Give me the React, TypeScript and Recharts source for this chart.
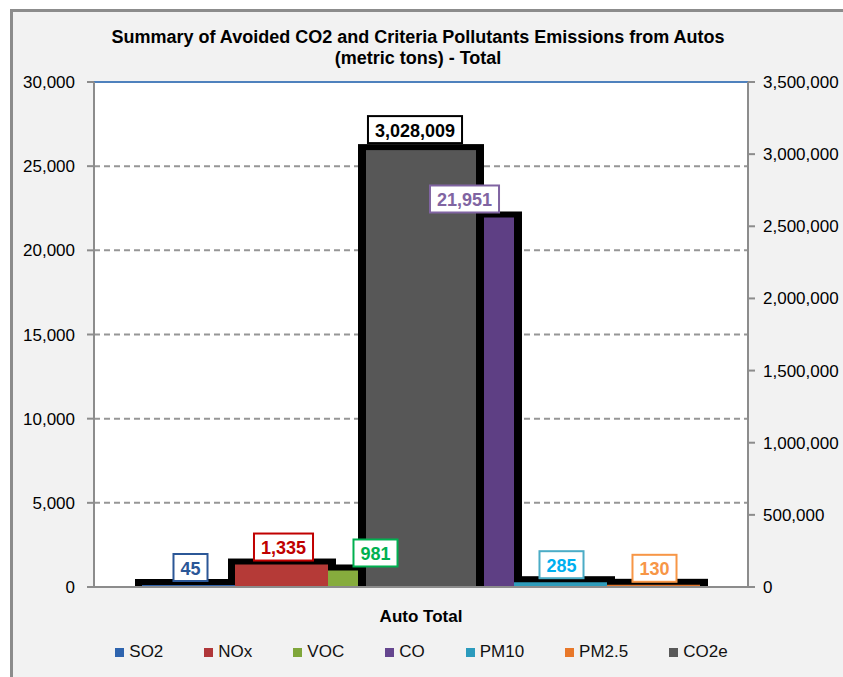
import React from 'react';
import { BarChart, Bar, XAxis, YAxis, CartesianGrid, Legend, ReferenceLine, LabelList } from 'recharts';

// ---- data ----
const categories = ['Auto Total'];
const so2Values = [45];
const noxValues = [1335];
const vocValues = [981];
const coValues = [21951];
const pm10Values = [285];
const pm25Values = [130];
const co2eValues = [3028009];
const leftTicks = [0, 5000, 10000, 15000, 20000, 25000, 30000];
const rightTicks = [0, 500000, 1000000, 1500000, 2000000, 2500000, 3000000, 3500000];
const titleLines = ['Summary of Avoided CO2 and Criteria Pollutants Emissions from Autos', '(metric tons) - Total'];

const data = categories.map((name, i) => ({
  name,
  SO2: so2Values[i],
  NOx: noxValues[i],
  VOC: vocValues[i],
  CO: coValues[i],
  PM10: pm10Values[i],
  PM25: pm25Values[i],
  CO2e: co2eValues[i],
}));

const FONT = '"Liberation Sans", Arial, sans-serif';

const primarySeries = [
  { key: 'SO2', name: 'SO2', fill: '#2F5FA5', legend: '#2E64AE', text: '#2B5797', border: '#2B5797', gap: 4, dx: 2 },
  { key: 'NOx', name: 'NOx', fill: '#B53A37', legend: '#B0373A', text: '#C00000', border: '#C00000', gap: 4, dx: 2 },
  { key: 'VOC', name: 'VOC', fill: '#86AC3D', legend: '#7FA63A', text: '#00B050', border: '#00B050', gap: 4, dx: 1 },
  { key: 'CO', name: 'CO', fill: '#5E3F84', legend: '#65468F', text: '#8064A2', border: '#8064A2', gap: 5, dx: -3 },
  { key: 'PM10', name: 'PM10', fill: '#2E9CBB', legend: '#2C9BBD', text: '#00B0F0', border: '#4BACC6', gap: 4, dx: 1 },
  { key: 'PM25', name: 'PM2.5', fill: '#E0732A', legend: '#E8782A', text: '#F79646', border: '#F79646', gap: 3, dx: 1 },
];
const secondarySeries = { key: 'CO2e', name: 'CO2e', fill: '#575757', legend: '#595959', text: '#000000', border: '#000000', gap: 7, dx: -6 };

const fmt = (v: number) => Number(v).toLocaleString('en-US');

const textWidth = (s: string, size: number) => {
  let w = 0;
  for (const ch of s) w += ch === ',' ? 0.278 : 0.556;
  return w * size;
};

const ShadowShape = (props: any) => {
  const { x, y, width, height } = props;
  if (width == null) return null;
  return <rect x={x - 7} y={y - 6} width={width + 15} height={height + 6} fill="#000" />;
};

const SecondaryShape = (props: any) => {
  const { x, y, width, height, fill } = props;
  return (
    <g>
      <rect x={x - 8} y={y - 6} width={width + 16} height={height + 6} fill="#000" />
      <rect x={x} y={y} width={width} height={height} fill={fill} />
    </g>
  );
};

const makeLabel = (s: any) => (props: any) => {
  const vb = props.viewBox && props.viewBox.width != null ? props.viewBox : props;
  const { x, y, width } = vb;
  const value = props.value;
  if (value == null || x == null) return null;
  const text = fmt(value);
  const fs = 18;
  const w = textWidth(text, fs) + 14;
  const h = 27;
  const cx = x + width / 2 + s.dx;
  const bottom = y - s.gap;
  return (
    <g>
      <rect x={cx - w / 2} y={bottom - h} width={w} height={h} fill="#fff" stroke={s.border} strokeWidth={2} />
      <text x={cx} y={bottom - h / 2 + 1} textAnchor="middle" dominantBaseline="central" fontFamily={FONT} fontWeight="bold" fontSize={fs} fill={s.text}>
        {text}
      </text>
    </g>
  );
};

const legendItems = [...primarySeries, secondarySeries];

const LegendContent = () => (
  <div style={{ display: 'flex', justifyContent: 'center', alignItems: 'center', gap: 41, height: 26, fontFamily: FONT, fontSize: 17, color: '#111' }}>
    {legendItems.map((it) => (
      <div key={it.key} style={{ display: 'flex', alignItems: 'center' }}>
        <span style={{ display: 'inline-block', width: 9, height: 9, background: it.legend, marginRight: 5 }} />
        <span>{it.name}</span>
      </div>
    ))}
  </div>
);

const axisStroke = { stroke: '#8C8C8C', strokeWidth: 2 };

export default function App() {
  return (
    <div style={{ position: 'fixed', left: 0, top: 0, width: 843, height: 677, background: '#fff', overflow: 'hidden' }}>
      <div style={{ position: 'absolute', left: 10, top: 9, width: 840, height: 680, background: '#F2F2F2', borderLeft: '3px solid #8C8C8C', borderTop: '3px solid #8C8C8C' }} />
      <div style={{ position: 'absolute', left: 0, top: 0 }}>
        <BarChart width={843} height={677} data={data} margin={{ top: 82, right: 0, left: 0, bottom: 12 }} barGap={0}>
          <CartesianGrid xAxisId="p1" yAxisId="left" vertical={false} stroke="#969696" strokeWidth={2} strokeDasharray="6 4" fill="#FFFFFF" />
          <XAxis xAxisId="p1" dataKey="name" height={52} tickLine={false} axisLine={axisStroke} tickMargin={17}
            tick={{ fontFamily: FONT, fontSize: 17, fontWeight: 'bold', fill: '#000' }} />
          <XAxis xAxisId="p2" dataKey="name" hide />
          <XAxis xAxisId="p3" dataKey="name" hide />
          <XAxis xAxisId="s" dataKey="name" hide />
          <YAxis yAxisId="left" domain={[0, 30000]} ticks={leftTicks} width={94} tickSize={7} tickMargin={12}
            tickFormatter={fmt} axisLine={axisStroke} tickLine={axisStroke} interval={0}
            tick={{ fontFamily: FONT, fontSize: 17, fill: '#000' }} />
          <YAxis yAxisId="right" orientation="right" domain={[0, 3500000]} ticks={rightTicks} width={95} tickSize={7} tickMargin={8}
            tickFormatter={fmt} axisLine={axisStroke} tickLine={axisStroke} interval={0}
            tick={{ fontFamily: FONT, fontSize: 17, fill: '#000', textAnchor: 'start' }} />
          <ReferenceLine xAxisId="p1" yAxisId="left" y={30000} stroke="#4F81BD" strokeWidth={2} />
          {primarySeries.map((s) => (
            <Bar key={'sh-' + s.key} xAxisId="p1" yAxisId="left" dataKey={s.key} barSize={93} minPointSize={2}
              shape={ShadowShape} legendType="none" isAnimationActive={false} />
          ))}
          {primarySeries.map((s) => (
            <Bar key={'f-' + s.key} xAxisId="p2" yAxisId="left" dataKey={s.key} name={s.name} barSize={93} minPointSize={2}
              fill={s.fill} isAnimationActive={false} />
          ))}
          <Bar xAxisId="s" yAxisId="right" dataKey={secondarySeries.key} name={secondarySeries.name} barSize={110}
            fill={secondarySeries.fill} shape={SecondaryShape} isAnimationActive={false}>
            <LabelList dataKey={secondarySeries.key} content={makeLabel(secondarySeries)} />
          </Bar>
          {primarySeries.map((s) => (
            <Bar key={'l-' + s.key} xAxisId="p3" yAxisId="left" dataKey={s.key} barSize={93} minPointSize={2}
              fill="none" legendType="none" isAnimationActive={false}>
              <LabelList dataKey={s.key} content={makeLabel(s)} />
            </Bar>
          ))}
          <Legend verticalAlign="bottom" content={LegendContent} />
        </BarChart>
      </div>
      <div style={{ position: 'absolute', left: 0, width: 836, top: 27, textAlign: 'center', fontFamily: FONT, fontWeight: 'bold', fontSize: 18, lineHeight: '21px', color: '#000' }}>
        {titleLines.map((t) => (
          <div key={t}>{t}</div>
        ))}
      </div>
    </div>
  );
}
